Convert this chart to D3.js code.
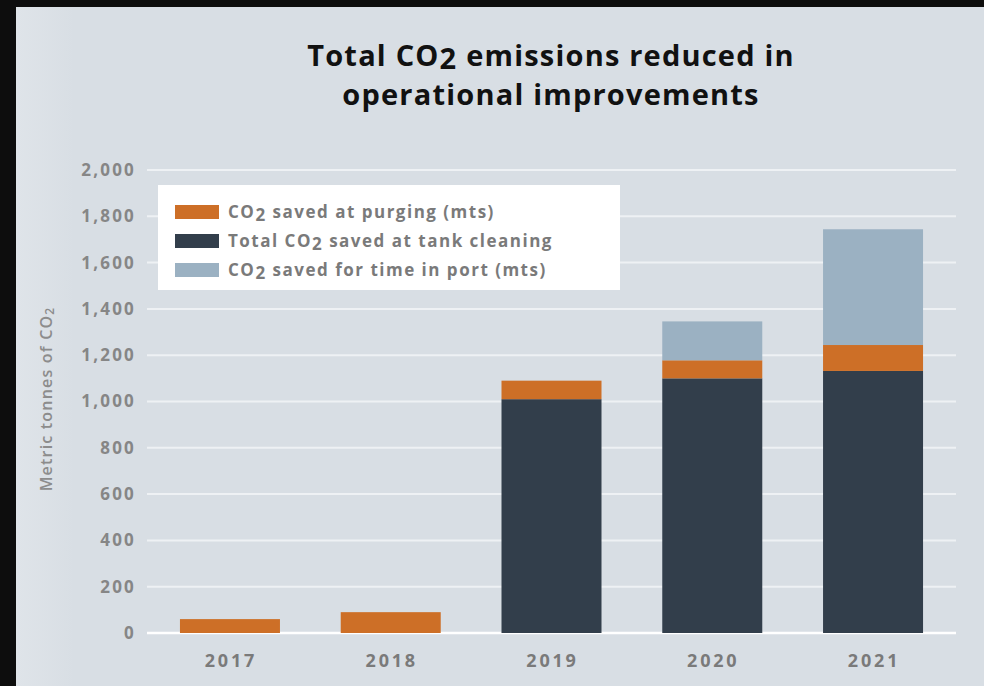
<!DOCTYPE html>
<html>
<head>
<meta charset="utf-8">
<script src="https://d3js.org/d3.v7.min.js"></script>
<style>
  body { margin: 0; background: #0d0d0d; }
  svg { display: block; }
  text { font-family: "Open Sans", Lato, sans-serif; }
</style>
</head>
<body>
<svg width="984" height="686"></svg>
<script>
// values (metric tonnes of CO2)
var years = ["2017", "2018", "2019", "2020", "2021"];
var tankCleaning = [0, 0, 1010, 1100, 1132];
var purging = [60, 90, 80, 78, 112];
var timeInPort = [0, 0, 0, 168, 500];
var yTicks = [0, 200, 400, 600, 800, 1000, 1200, 1400, 1600, 1800, 2000];

var seriesKeys = ["tank", "purging", "port"];
var colors = { tank: "#323e4b", purging: "#cd6f27", port: "#9bb1c2" };
var legendItems = [
  { key: "purging", pre: "CO", post: " saved at purging (mts)" },
  { key: "tank", pre: "Total CO", post: " saved at tank cleaning" },
  { key: "port", pre: "CO", post: " saved for time in port (mts)" }
];

var rows = years.map(function(y, i) {
  return { year: y, tank: tankCleaning[i], purging: purging[i], port: timeInPort[i] };
});

var svg = d3.select("svg");

// panel behind the chart
var defs = svg.append("defs");
var grad = defs.append("linearGradient").attr("id", "panelGrad")
  .attr("x1", "0").attr("x2", "1").attr("y1", "0").attr("y2", "0");
grad.append("stop").attr("offset", "0").attr("stop-color", "#dfe4e9");
grad.append("stop").attr("offset", "0.06").attr("stop-color", "#d8dee4");
grad.append("stop").attr("offset", "1").attr("stop-color", "#d8dee4");

svg.append("rect")
  .attr("x", 16).attr("y", 7)
  .attr("width", 968).attr("height", 679)
  .attr("fill", "url(#panelGrad)");

var x = d3.scaleBand()
  .domain(years)
  .range([147, 956])
  .paddingInner(0.378)
  .paddingOuter(0.205);

var y = d3.scaleLinear()
  .domain([0, 2000])
  .range([633, 170]);

// gridlines
svg.append("g")
  .selectAll("line")
  .data(yTicks)
  .enter()
  .append("line")
  .attr("x1", 147)
  .attr("x2", 956)
  .attr("y1", function(d) { return y(d); })
  .attr("y2", function(d) { return y(d); })
  .style("stroke", function(d) { return d === 0 ? "#ffffff" : "#eef1f4"; })
  .style("stroke-width", function(d) { return d === 0 ? 2.5 : 2; });

// y tick labels
var yAxis = svg.append("g")
  .attr("transform", "translate(136,0)")
  .call(d3.axisLeft(y).tickValues(yTicks).tickSize(0).tickPadding(0).tickFormat(d3.format(",")));
yAxis.select(".domain").remove();
yAxis.selectAll("text")
  .style("font-family", "'Open Sans', sans-serif")
  .style("font-size", "17px")
  .style("font-weight", "700")
  .style("letter-spacing", "2.2px")
  .style("fill", "#868686");

// stacked bars
var stack = d3.stack().keys(seriesKeys);
var layers = stack(rows);

svg.append("g")
  .selectAll("g")
  .data(layers)
  .enter()
  .append("g")
  .attr("fill", function(d) { return colors[d.key]; })
  .selectAll("rect")
  .data(function(d) { return d.filter(function(s) { return s[1] - s[0] > 0; }); })
  .enter()
  .append("rect")
  .attr("x", function(d) { return x(d.data.year); })
  .attr("width", x.bandwidth())
  .attr("y", function(d) { return y(d[1]); })
  .attr("height", function(d) { return y(d[0]) - y(d[1]); });

// x labels
var xAxis = svg.append("g")
  .attr("transform", "translate(1,648)")
  .call(d3.axisBottom(x).tickSize(0).tickPadding(0));
xAxis.select(".domain").remove();
xAxis.selectAll("text")
  .attr("dy", "1.05em")
  .style("font-family", "'Open Sans', sans-serif")
  .style("font-size", "18px")
  .style("font-weight", "700")
  .style("letter-spacing", "2.8px")
  .style("fill", "#7a7a7a");

// y axis title
var yTitle = svg.append("text")
  .attr("transform", "translate(52,399) rotate(-90)")
  .attr("text-anchor", "middle")
  .style("font-size", "16px")
  .style("font-weight", "600")
  .style("letter-spacing", "1.2px")
  .style("fill", "#8c8c8c");
yTitle.append("tspan").text("Metric tonnes of CO");
yTitle.append("tspan").attr("dy", 2).style("font-size", "12px").text("2");

// legend
var legend = svg.append("g");
legend.append("rect")
  .attr("x", 158).attr("y", 185)
  .attr("width", 462).attr("height", 105)
  .attr("fill", "#ffffff");

var item = legend.selectAll("g.item")
  .data(legendItems)
  .enter()
  .append("g")
  .attr("class", "item")
  .attr("transform", function(d, i) { return "translate(175," + (205 + i * 29) + ")"; });

item.append("rect")
  .attr("width", 44).attr("height", 14)
  .attr("fill", function(d) { return colors[d.key]; });

var itemText = item.append("text")
  .attr("x", 53).attr("y", 13)
  .style("font-size", "17px")
  .style("font-weight", "700")
  .style("letter-spacing", "1.5px")
  .style("fill", "#7a7a7a");
itemText.append("tspan").text(function(d) { return d.pre; });
itemText.append("tspan").attr("dy", 3).text("2");
itemText.append("tspan").attr("dy", -3).text(function(d) { return d.post; });

// title
var title = svg.append("g").attr("text-anchor", "middle");
var t1 = title.append("text")
  .attr("x", 551).attr("y", 66)
  .style("font-size", "29px")
  .style("font-weight", "700")
  .style("letter-spacing", "1.2px")
  .style("fill", "#111111");
t1.append("tspan").text("Total CO");
t1.append("tspan").attr("dy", 3).text("2");
t1.append("tspan").attr("dy", -3).text(" emissions reduced in");

title.append("text")
  .attr("x", 551).attr("y", 105)
  .style("font-size", "29px")
  .style("font-weight", "700")
  .style("letter-spacing", "1.2px")
  .style("fill", "#111111")
  .text("operational improvements");
</script>
</body>
</html>
